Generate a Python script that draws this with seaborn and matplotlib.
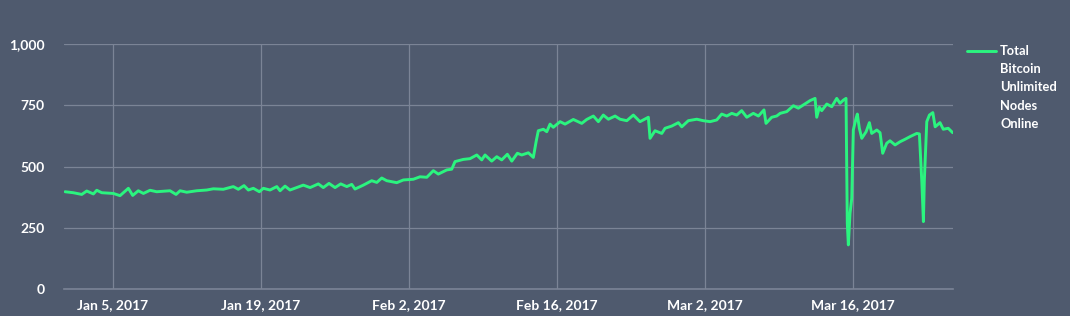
import matplotlib
matplotlib.use("Agg")
import matplotlib.pyplot as plt
import matplotlib.dates as mdates
from matplotlib.ticker import FixedLocator, StrMethodFormatter
import numpy as np
import pandas as pd
import seaborn as sns

# ---- data (days since 2017-01-01, nodes online) ----
days = [-0.54, 0.24, 1.04, 1.51, 2.14, 2.46, 2.93, 4.03, 4.66, 5.45, 5.86, 6.39, 6.87, 7.50,
        8.13, 9.39, 9.96, 10.34, 10.97, 11.92, 12.86, 13.49, 14.43, 15.38, 15.85, 16.39,
        16.80, 17.27, 17.84, 18.22, 18.85, 19.49, 19.80, 20.27, 20.74, 21.38, 22.00, 22.64,
        23.42, 23.89, 24.43, 25.00, 25.54, 26.11, 26.58, 26.89, 27.68, 28.47, 28.95, 29.42,
        29.89, 30.84, 31.46, 32.41, 33.04, 33.68, 34.30, 34.77, 35.57, 36.04, 36.35, 37.14,
        37.77, 38.41, 38.88, 39.19, 39.82, 40.30, 40.77, 41.30, 41.72, 42.25, 42.66, 43.29,
        43.76, 44.02, 44.23, 44.71, 45.03, 45.34, 45.65, 46.29, 46.76, 47.54, 48.34, 48.81,
        49.44, 49.91, 50.38, 50.86, 51.49, 51.96, 52.60, 53.22, 53.85, 54.64, 54.80, 55.27,
        55.91, 56.22, 56.85, 57.48, 57.80, 58.42, 59.22, 59.84, 60.48, 61.11, 61.58, 62.06,
        62.53, 63.00, 63.47, 63.95, 64.57, 65.05, 65.58, 65.77, 66.31, 66.78, 67.11, 67.73,
        68.36, 68.83, 69.30, 69.94, 70.41, 70.57, 70.82, 71.04, 71.52, 71.99, 72.46, 72.77,
        73.09, 73.34, 73.46, 73.56, 73.72, 73.88, 74.03, 74.29, 74.41, 74.60, 74.83, 75.24,
        75.55, 75.77, 76.25, 76.56, 76.81, 77.19, 77.50, 77.98, 78.45, 78.92, 79.40, 80.03,
        80.28, 80.41, 80.51, 80.66, 80.75, 80.98, 81.23, 81.55, 81.77, 82.23, 82.54, 83.01,
        83.43]
nodes = [397, 393, 386, 400, 388, 403, 393, 390, 381, 411, 382, 401, 390, 403,
         397, 401, 386, 401, 395, 401, 404, 409, 407, 418, 407, 422,
         404, 411, 397, 411, 404, 418, 401, 420, 404, 414, 424, 414,
         429, 414, 431, 414, 429, 418, 427, 408, 424, 442, 435, 453,
         442, 434, 445, 448, 458, 456, 483, 469, 486, 489, 520, 529,
         532, 547, 527, 547, 522, 540, 527, 550, 522, 554, 547, 556,
         537, 601, 646, 652, 642, 673, 660, 683, 673, 692, 676, 692,
         706, 683, 710, 693, 706, 693, 687, 710, 683, 701, 615, 646,
         635, 656, 665, 679, 662, 687, 693, 687, 683, 690, 714, 706,
         717, 710, 728, 701, 717, 706, 731, 676, 701, 706, 717, 724,
         748, 738, 751, 769, 778, 701, 742, 728, 755, 744, 778, 758,
         771, 778, 268, 180, 309, 370, 649, 697, 714, 656, 615, 642,
         679, 635, 649, 638, 554, 595, 605, 588, 601, 611, 622, 635,
         633, 527, 438, 275, 445, 683, 710, 720, 662, 679, 652, 656,
         638]
series_label = "Total\nBitcoin\nUnlimited\nNodes\nOnline"
x_tick_dates = ["2017-01-05", "2017-01-19", "2017-02-02", "2017-02-16", "2017-03-02", "2017-03-16"]
y_ticks = [0, 250, 500, 750, 1000]

# ---- styling ----
BG = "#4f5a6e"
GRID = "#7b8496"
GREEN = "#2bf47f"
TXT = "#ffffff"
DPI = 100

sns.set_theme(style="dark")
plt.rcParams["font.family"] = ["Lato", "DejaVu Sans"]

base = pd.Timestamp("2017-01-01")
df = pd.DataFrame({"date": base + pd.to_timedelta(days, unit="D"), "nodes": nodes})

fig = plt.figure(figsize=(10.7, 3.16), dpi=DPI, facecolor=BG)
ax = fig.add_axes([64 / 1070, 1 - 289 / 316, (953 - 64) / 1070, (289 - 44) / 316])
ax.set_facecolor(BG)

sns.lineplot(data=df, x="date", y="nodes", ax=ax, color=GREEN, linewidth=2.1,
             label=series_label, legend=False)

ax.set_ylim(0, 1000)
ax.set_xlim(base + pd.Timedelta(days=-0.64), base + pd.Timedelta(days=83.46))
ax.set_yticks(y_ticks)
ax.yaxis.set_major_formatter(StrMethodFormatter("{x:,.0f}"))
ax.xaxis.set_major_locator(FixedLocator(mdates.date2num(pd.to_datetime(x_tick_dates))))
ax.xaxis.set_major_formatter(mdates.DateFormatter("%b %-d, %Y"))

ax.grid(True, color=GRID, linewidth=0.9)
for s in ["left", "right", "top"]:
    ax.spines[s].set_visible(False)
ax.spines["bottom"].set_color(GRID)
ax.spines["bottom"].set_linewidth(1.2)
ax.tick_params(axis="both", length=0, colors=TXT, labelsize=10)
ax.tick_params(axis="y", pad=14)
ax.tick_params(axis="x", pad=7)
for lab in ax.get_xticklabels() + ax.get_yticklabels():
    lab.set_fontweight("bold")
ax.set_xlabel("")
ax.set_ylabel("")

h, l = ax.get_legend_handles_labels()
leg = fig.legend(h, l, loc="upper left", bbox_to_anchor=(967 / 1070, 1 - 45 / 316),
                 frameon=False, borderpad=0, borderaxespad=0, handlelength=2.24,
                 handletextpad=0.33, prop={"size": 9.3, "weight": "bold"})
for t in leg.get_texts():
    t.set_color(TXT)
    t.set_linespacing(1.62)
    t.set_multialignment("left")

# move the legend handle up so it sits beside the first line ("Total")
fig.canvas.draw()
renderer = fig.canvas.get_renderer()
txt_bb = leg.get_texts()[0].get_window_extent(renderer)
hline = leg.get_lines()[0]
h_bb = hline.get_window_extent(renderer)
h_center = 0.5 * (h_bb.y0 + h_bb.y1)
target = txt_bb.y1 - 6.0
delta_pt = (target - h_center) * 72.0 / DPI
hline.set_ydata(np.asarray(hline.get_ydata(), dtype=float) + delta_pt)

fig.savefig("out.png", dpi=DPI, facecolor=BG)
